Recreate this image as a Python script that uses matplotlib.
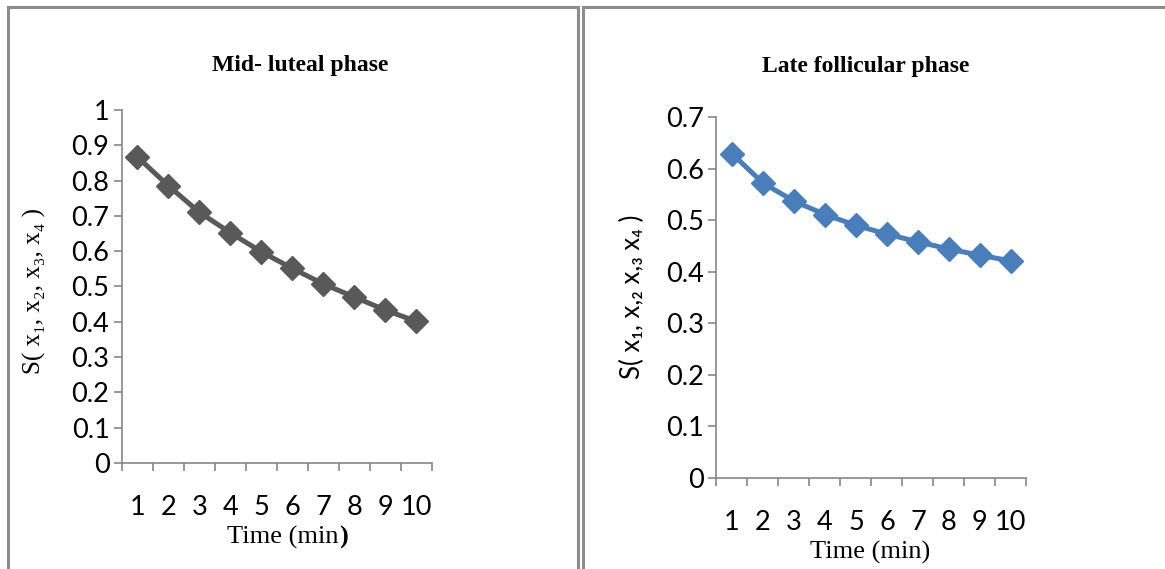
import numpy as np
import matplotlib.pyplot as plt
from matplotlib.lines import Line2D

time_min = [1, 2, 3, 4, 5, 6, 7, 8, 9, 10]
mid_luteal = [0.867, 0.785, 0.710, 0.652, 0.598, 0.551, 0.507, 0.470, 0.433, 0.401]
late_follicular = [0.629, 0.572, 0.537, 0.511, 0.490, 0.473, 0.458, 0.444, 0.432, 0.421]

axis_grey = '#868686'
tick_font = ['Lato', 'DejaVu Sans']
serif_font = ['Liberation Serif', 'DejaVu Serif']

fig = plt.figure(figsize=(11.65, 5.69), dpi=100)

# panel borders (two framed charts side by side)
border = dict(color='#8c8c8c', lw=2.2, transform=fig.transFigure)
fig.add_artist(Line2D([0.0069, 0.0069], [0, 0.9877], **border))
fig.add_artist(Line2D([0.0069, 0.4961], [0.9877, 0.9877], **border))
fig.add_artist(Line2D([0.4961, 0.4961], [0, 0.9877], **border))
fig.add_artist(Line2D([0.5004, 0.5004], [0, 0.9877], **border))
fig.add_artist(Line2D([0.5004, 1.0], [0.9877, 0.9877], **border))


def setup(ax, ymax, ystep):
    ax.set_xlim(0.5, 10.5)
    ax.set_ylim(0, ymax)
    yt = np.round(np.arange(0, ymax + ystep / 2, ystep), 2)
    ax.set_yticks(yt)
    ax.set_yticklabels([f'{v:g}' for v in yt], family=tick_font, fontsize=19.5)
    # category boundaries get the tick marks, labels sit at the centres
    ax.set_xticks(np.arange(0.5, 11, 1))
    ax.set_xticklabels([])
    ax.set_xticks(time_min, minor=True)
    ax.set_xticklabels([str(t) for t in time_min], minor=True, family=tick_font, fontsize=19.5)
    ax.tick_params(axis='x', which='minor', length=0, pad=23)
    ax.tick_params(axis='x', which='major', length=6, width=1.2, color=axis_grey)
    ax.tick_params(axis='y', length=6, width=1.2, color=axis_grey, pad=3)
    for s in ['top', 'right']:
        ax.spines[s].set_visible(False)
    for s in ['left', 'bottom']:
        ax.spines[s].set_color(axis_grey)
        ax.spines[s].set_linewidth(1.2)


ax1 = fig.add_axes([0.1047, 0.1863, 0.2661, 0.6204])
ax1.plot(time_min, mid_luteal, color='#595959', lw=3.6, marker='D', markersize=12.5,
         clip_on=False)
setup(ax1, 1.0, 0.1)
ax1.text(0.574, 1.125, 'Mid- luteal phase', transform=ax1.transAxes, ha='center', va='center',
         family=serif_font, fontweight='bold', fontsize=17)
ax1.set_ylabel('S( x\u2081, x\u2082, x\u2083, x\u2084 )', family=serif_font, fontsize=18)
ax1.yaxis.set_label_coords(-0.245, 0.487)
ax1.text(0.70, -0.212, 'Time (min', transform=ax1.transAxes, ha='right', va='center',
         family=serif_font, fontsize=19)
ax1.text(0.70, -0.212, ')', transform=ax1.transAxes, ha='left', va='center',
         family=serif_font, fontsize=19, fontweight='bold')

ax2 = fig.add_axes([0.615, 0.1599, 0.2661, 0.6344])
ax2.plot(time_min, late_follicular, color='#4a7ebb', lw=3.6, marker='D', markersize=12.5,
         clip_on=False)
setup(ax2, 0.7, 0.1)
ax2.text(0.482, 1.141, 'Late follicular phase', transform=ax2.transAxes, ha='center', va='center',
         family=serif_font, fontweight='bold', fontsize=17)
ax2.set_ylabel('S( x\u2081, x,\u2082 x,\u2083 x\u2084 )', family=tick_font, fontsize=18.5)
ax2.yaxis.set_label_coords(-0.232, 0.501)
ax2.text(0.495, -0.205, 'Time (min)', transform=ax2.transAxes, ha='center', va='center',
         family=serif_font, fontsize=19)

fig.savefig('out.png', dpi=100)
